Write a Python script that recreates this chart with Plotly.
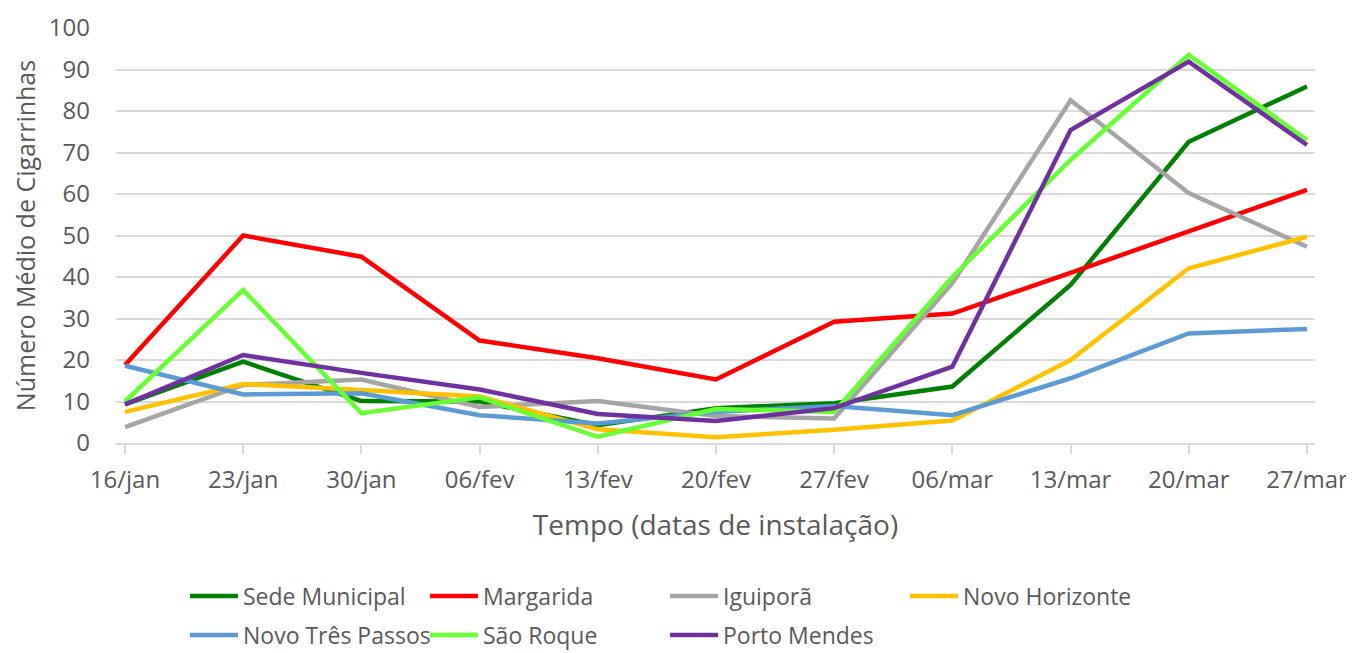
import plotly.graph_objects as go

dates = ["16/jan", "23/jan", "30/jan", "06/fev", "13/fev", "20/fev",
         "27/fev", "06/mar", "13/mar", "20/mar", "27/mar"]

sede_municipal = [9.3, 19.6, 10.1, 10.0, 4.3, 8.4, 9.6, 13.6, 38.1, 72.6, 85.9]
margarida = [18.8, 50.0, 44.9, 24.7, 20.4, 15.3, 29.2, 31.2, 41.0, 50.9, 61.0]
iguipora = [3.8, 14.0, 15.3, 8.7, 10.1, 6.5, 5.9, 38.5, 82.6, 60.2, 47.3]
novo_horizonte = [7.5, 14.2, 12.8, 11.2, 3.3, 1.4, 3.2, 5.4, 20.0, 42.1, 49.7]
novo_tres_passos = [18.6, 11.7, 12.0, 6.7, 4.7, 7.5, 8.9, 6.7, 15.6, 26.4, 27.5]
sao_roque = [10.0, 36.9, 7.2, 11.0, 1.5, 8.2, 7.5, 40.0, 68.2, 93.5, 73.0]
porto_mendes = [9.3, 21.2, 16.9, 12.9, 7.0, 5.3, 8.4, 18.4, 75.4, 91.9, 71.8]

series = [
    ("Sede Municipal", sede_municipal, "#008000", "legend"),
    ("Margarida", margarida, "#FF0000", "legend"),
    ("Iguiporã", iguipora, "#A5A5A5", "legend"),
    ("Novo Horizonte", novo_horizonte, "#FFC000", "legend"),
    ("Novo Três Passos", novo_tres_passos, "#5B9BD5", "legend2"),
    ("São Roque", sao_roque, "#66FF33", "legend2"),
    ("Porto Mendes", porto_mendes, "#7030A0", "legend2"),
]

FONT = "Open Sans"
GRAY = "#595959"

# page body has an 8px margin: figure sized so it ends at the window edge
W, H = 1346, 645
ML, MR, MT, MB = 108, 39, 20, 210

fig = go.Figure()
for name, vals, color, leg in series:
    fig.add_trace(go.Scatter(
        x=dates, y=vals, name=name, mode="lines",
        line=dict(color=color, width=4.5),
        legend=leg,
    ))

legend_common = dict(
    orientation="h",
    xanchor="left", yanchor="middle",
    xref="container", yref="container",
    font=dict(family=FONT, size=23, color=GRAY),
    entrywidth=177, entrywidthmode="pixels",
    itemwidth=48,
    bgcolor="rgba(0,0,0,0)",
    traceorder="normal",
)

fig.update_layout(
    width=W, height=H,
    paper_bgcolor="white", plot_bgcolor="white",
    margin=dict(l=ML, r=MR, t=MT, b=MB),
    font=dict(family=FONT, size=20, color=GRAY),
    showlegend=True,
    legend=dict(legend_common, x=(185 - 8) / W, y=1 - (596 - 8) / H),
    legend2=dict(legend_common, x=(185 - 8) / W, y=1 - (635 - 8) / H),
    xaxis=dict(
        type="category",
        showgrid=False,
        showline=True, linecolor="#d9d9d9", linewidth=1.5,
        ticks="outside", ticklen=9, tickcolor="#d9d9d9", tickwidth=1.5,
        tickfont=dict(family=FONT, size=24, color=GRAY),
        ticklabelstandoff=5,
        range=[-0.076, 10.068],
        title=dict(text="Tempo (datas de instalação)",
                   font=dict(family=FONT, size=28, color=GRAY),
                   standoff=22),
        automargin=False,
    ),
    yaxis=dict(
        range=[0, 100], dtick=10,
        showgrid=True, gridcolor="#d9d9d9", gridwidth=1.5,
        zeroline=False, showline=False,
        tickfont=dict(family=FONT, size=24, color=GRAY),
        ticklabelstandoff=25,
        title=dict(text="Número Médio de Cigarrinhas",
                   font=dict(family=FONT, size=25, color=GRAY),
                   standoff=8),
        automargin=False,
    ),
)

fig.write_html("out.html")
